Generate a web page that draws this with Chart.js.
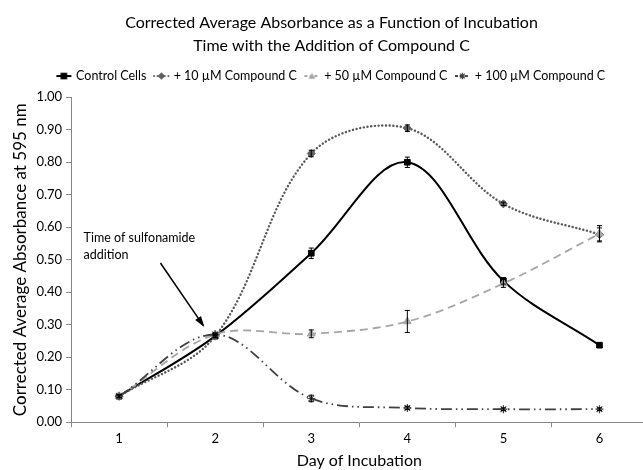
<!DOCTYPE html>
<html>
<head>
<meta charset="utf-8">
<script src="https://cdn.jsdelivr.net/npm/chart.js@4"></script>
<style>
  html, body { margin: 0; padding: 0; background: #fff; overflow: hidden; }
  #wrap { width: 643px; height: 470px; overflow: hidden; }
</style>
</head>
<body>
<div id="wrap"><canvas id="c" width="653" height="470"></canvas></div>
<script>
const days = ['1', '2', '3', '4', '5', '6'];
const yTicks = [0, 0.1, 0.2, 0.3, 0.4, 0.5, 0.6, 0.7, 0.8, 0.9, 1.0];
const seriesNames = ['Control Cells', '+ 10 \u00b5M Compound C', '+ 50 \u00b5M Compound C', '+ 100 \u00b5M Compound C'];
const control = [0.08, 0.265, 0.52, 0.80, 0.435, 0.237];
const c10 = [0.08, 0.265, 0.827, 0.905, 0.672, 0.578];
const c50 = [0.08, 0.27, 0.272, 0.31, 0.427, 0.58];
const c100 = [0.08, 0.27, 0.073, 0.044, 0.04, 0.04];
const controlErr = [0.005, 0.005, 0.016, 0.016, 0.01, 0.004];
const c10Err = [0.004, 0.004, 0.01, 0.01, 0.005, 0.02];
const c50Err = [0.004, 0.004, 0.012, 0.034, 0.012, 0.025];
const c100Err = [0.004, 0.004, 0.01, 0.005, 0.004, 0.004];
const annotationLines = ['Time of sulfonamide', 'addition'];

const FONT = 'Lato, "Open Sans", sans-serif';

const styles = [
  { color: '#000000', pointColor: '#000000', dash: [], width: 2, point: 'rect', radius: 4, cap: 'butt' },
  { color: '#595959', pointColor: '#5f5f5f', dash: [0.1, 3.6], width: 2.4, point: 'rectRot', radius: 4, cap: 'round' },
  { color: '#a6a6a6', pointColor: '#a6a6a6', dash: [8, 5], width: 1.8, point: 'triangle', radius: 4.5, cap: 'butt' },
  { color: '#404040', pointColor: '#404040', dash: [11, 4, 1.5, 4, 1.5, 4], width: 1.8, point: 'star', radius: 4, cap: 'butt' }
];
const values = [control, c10, c50, c100];
const errors = [controlErr, c10Err, c50Err, c100Err];

function legendIcon(s) {
  const cv = document.createElement('canvas');
  cv.width = 17; cv.height = 10;
  const g = cv.getContext('2d');
  g.strokeStyle = s.color;
  g.lineWidth = Math.min(s.width, 2);
  g.lineCap = s.cap;
  g.setLineDash(s.dash.length ? (s.cap === 'round' ? [0.1, 3.5] : [3, 2]) : []);
  g.beginPath(); g.moveTo(1, 5); g.lineTo(16, 5); g.stroke();
  g.setLineDash([]);
  g.fillStyle = s.pointColor; g.strokeStyle = s.pointColor; g.lineWidth = 1.2;
  const cx = 8.5, cy = 5, r = 3.3;
  g.beginPath();
  if (s.point === 'rect') { g.fillRect(cx - r, cy - r, 2 * r, 2 * r); }
  else if (s.point === 'rectRot') { g.moveTo(cx, cy - r - 0.5); g.lineTo(cx + r + 0.5, cy); g.lineTo(cx, cy + r + 0.5); g.lineTo(cx - r - 0.5, cy); g.closePath(); g.fill(); }
  else if (s.point === 'triangle') { g.moveTo(cx, cy - r); g.lineTo(cx + r, cy + r * 0.8); g.lineTo(cx - r, cy + r * 0.8); g.closePath(); g.fill(); }
  else if (s.point === 'star') {
    g.moveTo(cx - r, cy); g.lineTo(cx + r, cy); g.moveTo(cx, cy - r); g.lineTo(cx, cy + r);
    g.moveTo(cx - r * 0.7, cy - r * 0.7); g.lineTo(cx + r * 0.7, cy + r * 0.7);
    g.moveTo(cx - r * 0.7, cy + r * 0.7); g.lineTo(cx + r * 0.7, cy - r * 0.7); g.stroke();
  }
  return cv;
}

const datasets = values.map((v, i) => ({
  label: seriesNames[i],
  data: v,
  borderColor: styles[i].color,
  backgroundColor: styles[i].pointColor,
  pointBackgroundColor: styles[i].pointColor,
  pointBorderColor: styles[i].pointColor,
  pointBorderWidth: styles[i].point === 'star' ? 1.2 : 1,
  borderWidth: styles[i].width,
  borderDash: styles[i].dash,
  borderCapStyle: styles[i].cap,
  pointStyle: styles[i].point,
  pointRadius: styles[i].radius,
  tension: 0.35,
  fill: false,
  errors: errors[i],
  legendIcon: legendIcon(styles[i])
})).reverse();

const legendMargin = {
  id: 'legendMargin',
  beforeInit(chart) {
    const orig = chart.legend.fit;
    chart.legend.fit = function () { orig.call(this); this.height += 5; };
  }
};

const errorBarPlugin = {
  id: 'errorBars',
  afterDatasetsDraw(chart) {
    const ctx = chart.ctx;
    const y = chart.scales.y;
    chart.data.datasets.forEach((ds, di) => {
      const meta = chart.getDatasetMeta(di);
      ctx.save();
      ctx.strokeStyle = '#000';
      ctx.lineWidth = 1;
      meta.data.forEach((pt, j) => {
        const e = ds.errors[j];
        if (!e) return;
        const top = y.getPixelForValue(ds.data[j] + e);
        const bot = y.getPixelForValue(ds.data[j] - e);
        ctx.beginPath();
        ctx.moveTo(pt.x, top); ctx.lineTo(pt.x, bot);
        ctx.moveTo(pt.x - 2.5, top); ctx.lineTo(pt.x + 2.5, top);
        ctx.moveTo(pt.x - 2.5, bot); ctx.lineTo(pt.x + 2.5, bot);
        ctx.stroke();
      });
      ctx.restore();
    });
  }
};

const annotationPlugin = {
  id: 'annot',
  afterDraw(chart) {
    const ctx = chart.ctx;
    const x = chart.scales.x, y = chart.scales.y;
    const step = x.getPixelForValue(1) - x.getPixelForValue(0);
    ctx.save();
    ctx.fillStyle = '#000';
    ctx.font = '12.5px ' + FONT;
    ctx.textBaseline = 'middle';
    const tx = x.getPixelForValue(0) - 0.37 * step;
    ctx.fillText(annotationLines[0], tx, y.getPixelForValue(0.566));
    ctx.fillText(annotationLines[1], tx, y.getPixelForValue(0.514));
    const x0 = x.getPixelForValue(0) + 0.43 * step, y0 = y.getPixelForValue(0.49);
    const x1 = x.getPixelForValue(0) + 0.875 * step, y1 = y.getPixelForValue(0.298);
    ctx.strokeStyle = '#000'; ctx.lineWidth = 1.5;
    ctx.beginPath(); ctx.moveTo(x0, y0); ctx.lineTo(x1, y1); ctx.stroke();
    const ang = Math.atan2(y1 - y0, x1 - x0);
    const L = 9, W = 3.5;
    ctx.beginPath();
    ctx.moveTo(x1 + 2 * Math.cos(ang), y1 + 2 * Math.sin(ang));
    ctx.lineTo(x1 - L * Math.cos(ang) + W * Math.sin(ang), y1 - L * Math.sin(ang) - W * Math.cos(ang));
    ctx.lineTo(x1 - L * Math.cos(ang) - W * Math.sin(ang), y1 - L * Math.sin(ang) + W * Math.cos(ang));
    ctx.closePath(); ctx.fill();
    ctx.restore();
  }
};

new Chart(document.getElementById('c'), {
  type: 'line',
  data: { labels: days, datasets },
  options: {
    responsive: false,
    animation: false,
    layout: { padding: { left: 10, right: 0, top: 8, bottom: 0 } },
    plugins: {
      title: {
        display: true,
        text: ['Corrected Average Absorbance as a Function of Incubation', 'Time with the Addition of Compound C'],
        color: '#000',
        font: { family: FONT, size: 16, weight: 'normal', lineHeight: 1.4 },
        padding: { top: 4, bottom: 4 },
        align: 'center',
        fullSize: true
      },
      legend: {
        display: true,
        position: 'top',
        reverse: false,
        labels: {
          color: '#000',
          font: { family: FONT, size: 12.5 },
          usePointStyle: true,
          pointStyleWidth: 12,
          padding: 9,
          generateLabels(chart) {
            return chart.data.datasets.map((ds, i) => ({
              text: ds.label,
              pointStyle: ds.legendIcon,
              datasetIndex: i,
              fillStyle: 'transparent',
              strokeStyle: 'transparent',
              lineWidth: 0,
              fontColor: '#000'
            })).reverse();
          }
        }
      },
      tooltip: { enabled: false }
    },
    scales: {
      x: {
        offset: true,
        grid: { offset: true, drawOnChartArea: false, drawTicks: true, tickLength: 5, color: '#868686' },
        border: { color: '#868686', width: 1 },
        ticks: { color: '#000', font: { family: FONT, size: 13 }, padding: 4 },
        title: { display: true, text: 'Day of Incubation', color: '#000', font: { family: FONT, size: 16 }, padding: { top: 0, bottom: 0 } }
      },
      y: {
        min: 0, max: 1,
        afterBuildTicks(scale) { scale.ticks = yTicks.map(v => ({ value: v })); },
        grid: { drawOnChartArea: false, drawTicks: true, tickLength: 5, color: '#868686' },
        border: { color: '#868686', width: 1 },
        ticks: { color: '#000', font: { family: FONT, size: 13 }, padding: 4, callback: v => Number(v).toFixed(2) },
        title: { display: true, text: 'Corrected Average Absorbance at 595 nm', color: '#000', font: { family: FONT, size: 17 }, padding: { top: 0, bottom: 2 } }
      }
    }
  },
  plugins: [legendMargin, errorBarPlugin, annotationPlugin]
});
</script>
</body>
</html>
